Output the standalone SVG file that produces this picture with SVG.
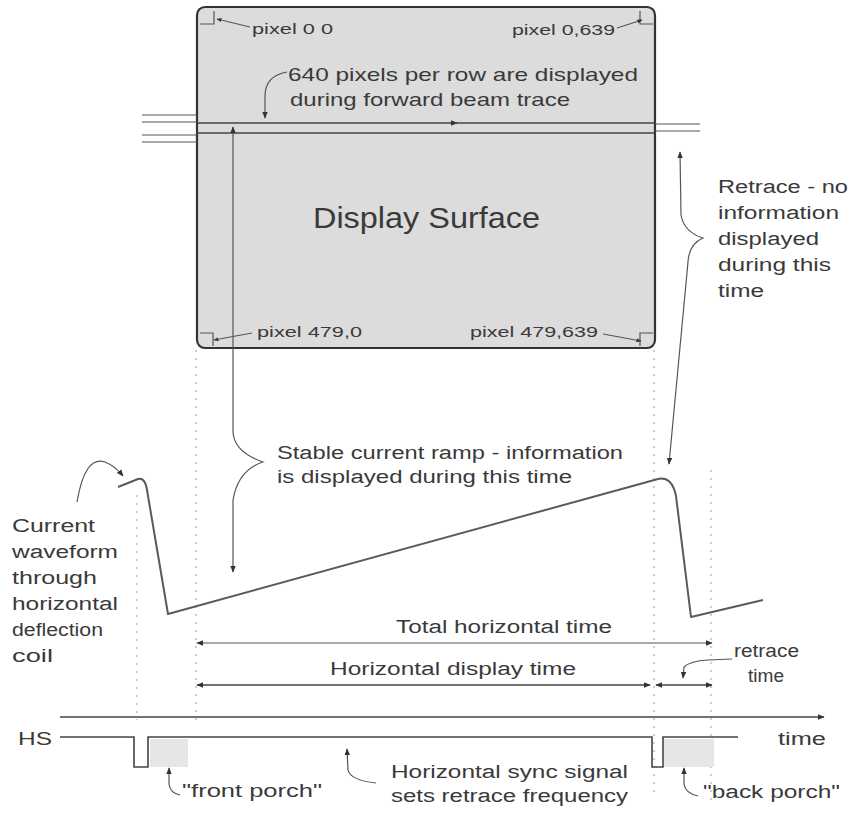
<svg xmlns="http://www.w3.org/2000/svg" width="854" height="820" viewBox="0 0 854 820">
  <style>
    text { font-family: "Liberation Sans", Arial, sans-serif; fill: #3a3a3a; }
    .t18 { font-size: 18px; }
    .t14 { font-size: 14px; }
    .t19 { font-size: 19px; }
    .big { font-size: 29px; }
    .ln { fill: none; stroke: #444; stroke-width: 1.6; }
    .thin { fill: none; stroke: #555; stroke-width: 1.2; }
    .wave { fill: none; stroke: #5a5a5a; stroke-width: 2; stroke-linejoin: round; }
    .dot { fill: none; stroke: #9a9a9a; stroke-width: 1; stroke-dasharray: 2 6; }
    .porch { fill: #e6e6e6; }
  </style>
  <defs>
    <marker id="ah" viewBox="0 0 10 10" refX="9" refY="5" markerWidth="7" markerHeight="7" orient="auto-start-reverse" markerUnits="userSpaceOnUse">
      <path d="M0,1 L10,5 L0,9 Z" fill="#333"/>
    </marker>
    <marker id="ahs" viewBox="0 0 10 10" refX="9" refY="5" markerWidth="5" markerHeight="5" orient="auto-start-reverse" markerUnits="userSpaceOnUse">
      <path d="M0,1 L10,5 L0,9 Z" fill="#333"/>
    </marker>
  </defs>

  <rect width="854" height="820" fill="#ffffff"/>

  <!-- guide lines (dotted) -->
  <g id="guides">
    <path class="dot" d="M137,495 V720"/>
    <path class="dot" d="M196,350 V720"/>
    <path class="dot" d="M654,350 V792"/>
    <path class="dot" d="M711,470 V800"/>
  </g>

  <!-- display surface -->
  <g id="display">
    <rect x="197" y="7" width="458" height="341" rx="8" fill="#dcdcdc" stroke="#333" stroke-width="2.2"/>
    <text class="big" x="313" y="228" textLength="227" lengthAdjust="spacingAndGlyphs">Display Surface</text>
  </g>

  <!-- corner pixel labels -->
  <g id="pixel-tl">
    <path class="thin" d="M200,24 H214 V11"/>
    <path class="thin" d="M250,27 L217,19" marker-end="url(#ahs)"/>
    <text class="t14" x="252" y="34" textLength="81" lengthAdjust="spacingAndGlyphs">pixel 0 0</text>
  </g>
  <g id="pixel-tr">
    <path class="thin" d="M640,11 V24 H653"/>
    <path class="thin" d="M617,28 L642,20" marker-end="url(#ahs)"/>
    <text class="t14" x="512" y="35" textLength="103" lengthAdjust="spacingAndGlyphs">pixel 0,639</text>
  </g>
  <g id="pixel-bl">
    <path class="thin" d="M200,333 H213 V346"/>
    <path class="thin" d="M252,333 L214,340" marker-end="url(#ahs)"/>
    <text class="t14" x="257" y="337" textLength="105" lengthAdjust="spacingAndGlyphs">pixel 479,0</text>
  </g>
  <g id="pixel-br">
    <path class="thin" d="M640,346 V333 H653"/>
    <path class="thin" d="M603,334 L641,341" marker-end="url(#ahs)"/>
    <text class="t14" x="470" y="337" textLength="128" lengthAdjust="spacingAndGlyphs">pixel 479,639</text>
  </g>

  <!-- forward beam trace -->
  <g id="beam">
    <path class="thin" d="M142,115 H197 M142,122 H197 M142,135 H197 M142,142 H197"/>
    <path class="ln" d="M197,123 H457" marker-end="url(#ah)"/>
    <path class="ln" d="M455,123 H655"/>
    <path class="ln" d="M197,133 H655"/>
    <path class="thin" d="M655,124 H700 M655,131 H700"/>
  </g>
  <g id="beam-label">
    <text class="t19" x="288" y="81" textLength="350" lengthAdjust="spacingAndGlyphs">640 pixels per row are displayed</text>
    <text class="t19" x="290" y="106" textLength="280" lengthAdjust="spacingAndGlyphs">during forward beam trace</text>
  </g>

  <!-- current waveform -->
  <g id="waveform">
    <path class="wave" d="M118,487 L138,479 Q145,477 147,490 L168,614 L658,479 Q672,476 676,496 L691,617 L763,600"/>
  </g>
  <g id="waveform-label">
    <text class="t18" x="12" y="532" textLength="83" lengthAdjust="spacingAndGlyphs">Current</text>
    <text class="t18" x="12" y="558" textLength="106" lengthAdjust="spacingAndGlyphs">waveform</text>
    <text class="t18" x="12" y="584" textLength="85" lengthAdjust="spacingAndGlyphs">through</text>
    <text class="t18" x="12" y="610" textLength="106" lengthAdjust="spacingAndGlyphs">horizontal</text>
    <text class="t18" x="12" y="636" textLength="91" lengthAdjust="spacingAndGlyphs">deflection</text>
    <text class="t18" x="12" y="662" textLength="41" lengthAdjust="spacingAndGlyphs">coil</text>
  </g>

  <!-- stable ramp label -->
  <g id="ramp-label">
    <text class="t18" x="277" y="459" textLength="346" lengthAdjust="spacingAndGlyphs">Stable current ramp - information</text>
    <text class="t18" x="277" y="483" textLength="295" lengthAdjust="spacingAndGlyphs">is displayed during this time</text>
  </g>

  <!-- retrace label -->
  <g id="retrace-label">
    <text class="t18" x="718" y="193" textLength="130" lengthAdjust="spacingAndGlyphs">Retrace - no</text>
    <text class="t18" x="718" y="219" textLength="121" lengthAdjust="spacingAndGlyphs">information</text>
    <text class="t18" x="718" y="245" textLength="101" lengthAdjust="spacingAndGlyphs">displayed</text>
    <text class="t18" x="718" y="271" textLength="113" lengthAdjust="spacingAndGlyphs">during this</text>
    <text class="t18" x="718" y="297" textLength="46" lengthAdjust="spacingAndGlyphs">time</text>
  </g>

  <!-- timing labels -->
  <g id="total-label">
    <text class="t18" x="396" y="633" textLength="216" lengthAdjust="spacingAndGlyphs">Total horizontal time</text>
  </g>
  <g id="display-time-label">
    <text class="t18" x="330" y="675" textLength="246" lengthAdjust="spacingAndGlyphs">Horizontal display time</text>
  </g>
  <g id="retrace-time-label">
    <text class="t18" x="734" y="657" textLength="65" lengthAdjust="spacingAndGlyphs">retrace</text>
    <text class="t18" x="748" y="682" textLength="36" lengthAdjust="spacingAndGlyphs">time</text>
  </g>

  <!-- horizontal sync signal -->
  <g id="hs-signal">
    <rect class="porch" x="150" y="739" width="38" height="28"/>
    <rect class="porch" x="664" y="739" width="50" height="28"/>
    <path class="ln" d="M60,737 H134 V767 H148 V737 H652 V767 H663 V737 H738"/>
    <text class="t18" x="18" y="745" textLength="34" lengthAdjust="spacingAndGlyphs">HS</text>
  </g>
  <g id="time-axis">
    <path class="ln" d="M60,717 H824" marker-end="url(#ah)"/>
    <text class="t18" x="778" y="745" textLength="48" lengthAdjust="spacingAndGlyphs">time</text>
  </g>
  <g id="sync-labels">
    <text class="t18" x="182" y="797" textLength="140" lengthAdjust="spacingAndGlyphs">"front porch"</text>
    <text class="t18" x="391" y="778" textLength="237" lengthAdjust="spacingAndGlyphs">Horizontal sync signal</text>
    <text class="t18" x="391" y="802" textLength="237" lengthAdjust="spacingAndGlyphs">sets retrace frequency</text>
    <text class="t18" x="703" y="798" textLength="137" lengthAdjust="spacingAndGlyphs">"back porch"</text>
  </g>

  <!-- connectors -->
  <g id="connectors">
    <!-- 640 pixels callout -->
    <path class="thin" d="M287,72 Q265,76 265,96 L265,118" marker-end="url(#ah)"/>
    <!-- stable ramp brace arrow -->
    <path class="thin" d="M233,127 L233,432 Q234,452 263,462 Q238,470 233,500 L233,572" marker-start="url(#ah)" marker-end="url(#ah)"/>
    <!-- retrace brace arrow -->
    <path class="thin" d="M680,152 L681,215 Q684,232 703,238 Q689,244 688,262 L669,464" marker-start="url(#ah)" marker-end="url(#ah)"/>
    <!-- waveform callout -->
    <path class="thin" d="M77,502 Q85,455 105,462 Q115,466 123,476" marker-end="url(#ah)"/>
    <!-- total horizontal time -->
    <path class="thin" d="M197,643 H712" marker-start="url(#ah)" marker-end="url(#ah)"/>
    <!-- horizontal display time -->
    <path class="ln" d="M197,685 H650" marker-start="url(#ah)" marker-end="url(#ah)"/>
    <!-- retrace time -->
    <path class="ln" d="M656,685 H712" marker-start="url(#ah)" marker-end="url(#ah)"/>
    <path class="thin" d="M732,659 L708,660 Q690,661 684,667 L683,678" marker-end="url(#ah)"/>
    <!-- sync callouts -->
    <path class="thin" d="M180,795 Q170,793 169,784 L169,768" marker-end="url(#ah)"/>
    <path class="thin" d="M376,783 Q350,780 348,770 L347,749" marker-end="url(#ah)"/>
    <path class="thin" d="M698,796 Q685,793 684,784 L684,768" marker-end="url(#ah)"/>
  </g>
</svg>
